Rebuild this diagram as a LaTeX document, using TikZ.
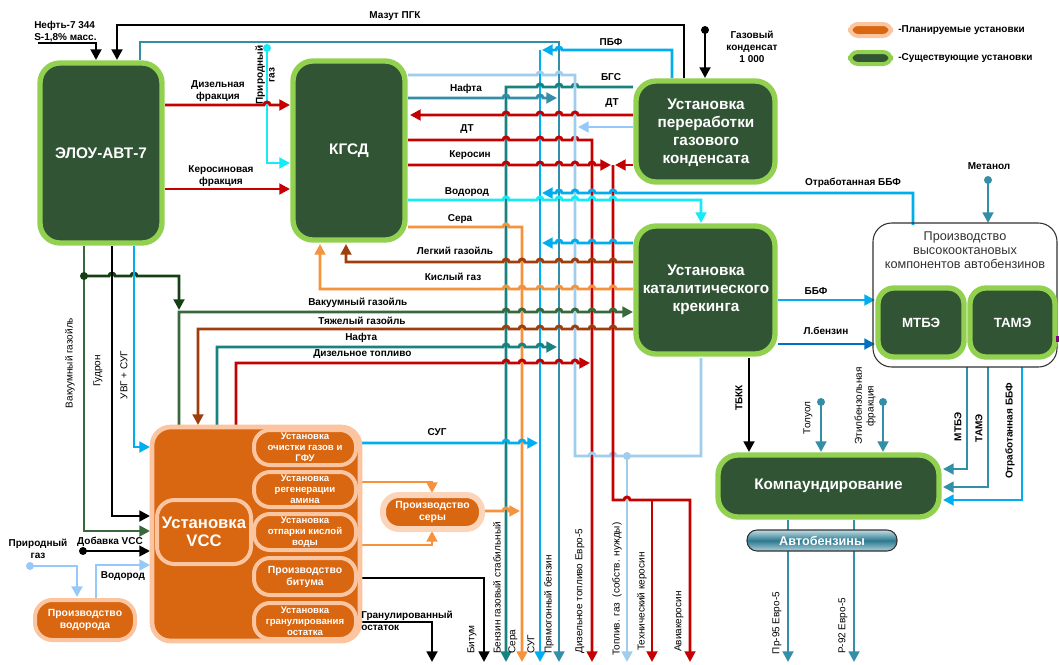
\documentclass[tikz,border=0pt]{standalone}
\usepackage{fontspec}
\setmainfont{Liberation Sans}
\usetikzlibrary{arrows.meta,fit}
\definecolor{boxg}{RGB}{49,84,52}
\definecolor{lgr}{RGB}{146,208,80}
\definecolor{orf}{RGB}{217,102,16}
\definecolor{peach}{RGB}{250,197,160}
\definecolor{peachl}{RGB}{252,212,185}
\definecolor{cred}{RGB}{196,0,0}
\definecolor{cteal}{RGB}{24,130,128}
\definecolor{csteel}{RGB}{52,142,168}
\definecolor{ccyan}{RGB}{0,174,239}
\definecolor{clight}{RGB}{160,205,235}
\definecolor{cpale}{RGB}{150,200,250}
\definecolor{cbright}{RGB}{20,235,245}
\definecolor{cbrown}{RGB}{158,62,12}
\definecolor{corange}{RGB}{246,146,60}
\definecolor{cgreen}{RGB}{56,104,60}
\definecolor{dkgreen}{RGB}{20,64,20}
\definecolor{cdblue}{RGB}{0,112,192}
\definecolor{gtext}{RGB}{50,50,50}
\def\hopR#1#2{\foreach \c in {#2}{ -- (\c-3,#1) arc[start angle=180,end angle=0,radius=2.25pt]}}
\def\hopL#1#2{\foreach \c in {#2}{ -- (\c+3,#1) arc[start angle=0,end angle=180,radius=2.25pt]}}
\begin{document}
\begin{tikzpicture}[x=0.75pt,y=-0.75pt,
 ln/.style={line width=2.2pt},
 arr/.style={-{Triangle[length=8pt,width=8pt]}},
 lbl/.style={font=\fontsize{7.5}{8.8}\selectfont\bfseries, inner sep=0pt, align=center},
 rl/.style={font=\fontsize{7.5}{8.8}\selectfont, inner sep=0pt, rotate=90, align=center},
 rlb/.style={font=\fontsize{7.5}{8.8}\selectfont\bfseries, inner sep=0pt, rotate=90, align=center},
 gbox/.style={draw=lgr, fill=boxg, line width=4pt, rounded corners=15pt, inner sep=0pt},
 obox/.style={draw=peach, fill=orf, line width=3pt, rounded corners=12pt, inner sep=0pt},
 btxt/.style={text=white, font=\fontsize{11.5}{13.5}\selectfont\bfseries, align=center, inner sep=0pt},
 stxt/.style={text=white, font=\fontsize{7.2}{8.2}\selectfont\bfseries, align=center, inner sep=0pt},
 dot/.style={circle, inner sep=0pt, minimum size=6pt}
]
\fill[white] (0,0) rectangle (1059,664);
\useasboundingbox (0,0) rectangle (1059,664);

% ---------- trunks ----------
\draw[ln,csteel,arr] (140,60) -- (140,42) -- (559,42) -- (559,662);
\draw[ln,ccyan,arr] (540,50) -- (540,662);
\draw[ln,cteal,arr] (633,87) \hopL{87}{575,559,540} -- (506,87) -- (506,662);
\draw[ln,corange,arr] (408,227) \hopR{227}{506} -- (522,227) -- (522,662);
\draw[ln,cred,arr] (408,140) \hopR{140}{506,540,559,575} -- (592,140) -- (592,662);
\draw[ln,clight] (408,75) \hopR{75}{540,559} -- (575,75) -- (575,456) \hopR{456}{592,613} -- (701,456) -- (701,358);
\draw[ln,clight,arr] (627,456) -- (627,662);
\node[dot,fill=clight] (fgdot) at (627,456) {};
\draw[ln,cred,arr] (613,165) -- (613,500) \hopR{500}{627} -- (690,500) -- (690,662);
\draw[ln,cred,arr] (652,500) -- (652,662);

% ---------- top ----------
\draw[ln,black,arr] (38,43) -- (96,43) -- (96,60);
\draw[ln,black,arr] (684,78) -- (684,25) -- (117,25) -- (117,60);
\draw[ln,ccyan,arr] (672,78) -- (672,50) \hopL{50}{559} -- (542,50);
\draw[ln,black,arr] (705,30) -- (705,78);
\node[dot,fill=black] (gcdot) at (705,30) {};

% ---------- horizontals ----------
\draw[ln,csteel,arr] (408,98) \hopR{98}{506,540} -- (557,98);
\draw[ln,cred,arr] (633,115) \hopL{115}{575,559,540,506} -- (410,115);
\draw[ln,cpale,arr] (633,127) -- (578,127);
\draw[ln,cred,arr] (408,165) \hopR{165}{506,540,559,575,592} -- (611,165);
\draw[ln,cred,arr] (633,165) -- (615,165);
\draw[ln,ccyan,arr] (913,225) -- (913,193) \hopL{193}{613,592,575,559} -- (542,193);
\draw[ln,cbright,arr] (408,200) \hopR{200}{506,540,559,575,592,613} -- (701,200) -- (701,223);
\draw[ln,ccyan,arr] (633,243) \hopL{243}{613,592,575,559} -- (542,243);
\draw[ln,cbrown,arr] (633,262) \hopL{262}{613,592,575,559,540,522,506} -- (346,262) -- (346,244);
\draw[ln,corange,arr] (633,289) \hopL{289}{613,592,575,559,540,522,506} -- (320,289) -- (320,244);
\draw[ln,dkgreen,arr] (84,276) \hopR{276}{112,134} -- (179,276) -- (179,310);
\draw[ln,cgreen,arr] (179,427) -- (179,312) \hopR{312}{506,522,540,559,575,592,613} -- (633,312);
\draw[ln,cbrown,arr] (633,329) \hopL{329}{613,592,575,559,540,522,506} -- (198,329) -- (198,425);
\draw[ln,cteal,arr] (217,427) -- (217,347) \hopR{347}{506,522,540} -- (557,347);
\draw[ln,cred,arr] (236,427) -- (236,363) \hopR{363}{506,522,540,559,575} -- (590,363);

% ---------- left ----------
\draw[ln,cgreen,arr] (84,246) -- (84,531) -- (150,531);
\node[dot,fill=dkgreen] (vgdot) at (84,276) {};
\draw[ln,black,arr] (112,246) -- (112,516) -- (150,516);
\draw[ln,ccyan,arr] (134,246) -- (134,447) -- (150,447);
\draw[line width=1.6pt,black,arr] (83,551) -- (150,551);
\node[dot,fill=black] (vccdot) at (83,551) {};
\draw[ln,cpale,arr] (30,566) -- (77,566) -- (77,597);
\node[dot,fill=cpale] (pgdot2) at (30,566) {};
\draw[ln,cpale,arr] (96,598) -- (96,565) -- (150,565);
\draw[ln,cbright,arr] (267,48) -- (267,163) -- (290,163);
\node[dot,fill=cbright] (pgdot) at (267,48) {};
\draw[ln,cred,arr] (165,105) \hopR{105}{267} -- (290,105);
\draw[ln,cred,arr] (165,189) -- (290,189);

% ---------- VCC outputs ----------
\draw[ln,ccyan,arr] (357,443) \hopR{443}{506,522} -- (538,443);
\draw[ln,corange,arr] (355,482) -- (432,482) -- (432,493);
\draw[ln,corange,arr] (355,545) -- (432,545) -- (432,531);
\draw[ln,corange,arr] (485,511) \hopR{511}{506} -- (520,511);
\draw[ln,black,arr] (357,578) -- (484,578) -- (484,662);
\draw[ln,black,arr] (357,622) -- (432,622) -- (432,662);

% ---------- right ----------
\draw[ln,ccyan,arr] (778,300) -- (875,300);
\draw[ln,cdblue,arr] (778,344) -- (875,344);
\draw[ln,csteel,arr] (988,180) -- (988,223);
\node[dot,fill=csteel] (medot) at (988,180) {};
\draw[ln,black,arr] (749,358) -- (749,452);
\draw[ln,csteel,arr] (821,402) -- (821,452);
\node[dot,fill=csteel] (todot) at (821,402) {};
\draw[ln,csteel,arr] (883,402) -- (883,452);
\node[dot,fill=csteel] (ebdot) at (883,402) {};
\draw[ln,csteel,arr] (967,367) -- (967,469) -- (943,469);
\draw[ln,csteel,arr] (988,367) -- (988,487) -- (943,487);
\draw[ln,ccyan,arr] (1022,367) -- (1022,500) -- (943,500);
\draw[ln,csteel,arr] (788,520) -- (788,662);
\draw[ln,csteel,arr] (854,520) -- (854,662);

% ---------- boxes ----------
\node[gbox, fit={(40,63) (162,243)}] (elou) {};
\node[btxt] (eloutx) at (elou.center) {ЭЛОУ-АВТ-7};
\node[gbox, fit={(293,61) (405,240)}] (kgsd) {};
\node[btxt] (kgsdtx) at (kgsd.center) {КГСД};
\node[gbox, fit={(636,81) (775,182)}] (ugk) {};
\node[btxt] (ugktx) at (706,133) {Установка\\переработки\\газового\\конденсата};
\node[gbox, fit={(636,226) (775,354)}] (ukk) {};
\node[btxt] (ukktx) at (706,290) {Установка\\каталитического\\крекинга};
\draw[gtext, line width=0.8pt, rounded corners=14pt] (873,223) rectangle (1057,367);
\node[font=\fontsize{9.5}{10.7}\selectfont, text=gtext, align=center, inner sep=0pt] (prodtx) at (965,250) {Производство\\высокооктановых\\компонентов автобензинов};
\node[gbox, rounded corners=12pt, fit={(878,288) (964,357)}] (mtbe) {};
\node[btxt, font=\fontsize{10}{12}\selectfont\bfseries] (mtbetx) at (mtbe.center) {МТБЭ};
\node[gbox, rounded corners=12pt, fit={(970,288) (1055,357)}] (tame) {};
\node[btxt, font=\fontsize{10}{12}\selectfont\bfseries] (tametx) at (tame.center) {ТАМЭ};
\fill[violet] (1056,336) rectangle (1059,342);
\node[gbox, fit={(718,455) (939,517)}] (komp) {};
\node[btxt] (komptx) at (komp.center) {Компаундирование};
\node[draw=gtext, line width=0.8pt, rounded corners=7.5pt, top color=white!70!csteel, bottom color=white!60!csteel, middle color=csteel!85!black, fit={(747,530) (897,551)}, inner sep=0pt] (abenz) {};
\node[text=white, font=\fontsize{9.5}{11}\selectfont\bfseries, inner sep=0pt] (abenztx) at (abenz.center) {Автобензины};

% VCC complex
\node[draw=peach, fill=orf, line width=3.5pt, rounded corners=14pt, inner sep=0pt, fit={(152,427) (360,641)}] (vcc) {};
\node[obox, fit={(254,430) (356,465)}] (s1) {};
\node[stxt] (s1tx) at (s1.center) {Установка\\очистки газов и\\ГФУ};
\node[obox, fit={(254,472) (356,507)}] (s2) {};
\node[stxt] (s2tx) at (s2.center) {Установка\\регенерации\\амина};
\node[obox, fit={(254,514) (356,550)}] (s3) {};
\node[stxt] (s3tx) at (s3.center) {Установка\\отпарки кислой\\воды};
\node[obox, fit={(254,558) (356,595)}] (s4) {};
\node[stxt, font=\fontsize{7.8}{9}\selectfont\bfseries] (s4tx) at (s4.center) {Производство\\битума};
\node[obox, fit={(254,603) (356,639)}] (s5) {};
\node[stxt] (s5tx) at (s5.center) {Установка\\гранулирования\\остатка};
\node[obox, rounded corners=13pt, fit={(157,500) (251,564)}] (vccin) {};
\node[btxt, font=\fontsize{12.5}{13}\selectfont\bfseries] (vcctx) at (vccin.center) {Установка\\VCC};
\node[obox, rounded corners=13pt, fit={(35,600) (135,640)}] (h2) {};
\node[stxt, font=\fontsize{7.8}{9}\selectfont\bfseries] (h2tx) at (h2.center) {Производство\\водорода};
\node[obox, draw=peachl, line width=4.5pt, rounded corners=12pt, fit={(383,495) (482,529)}] (sulf) {};
\node[stxt, font=\fontsize{7.8}{9}\selectfont\bfseries] (sulftx) at (sulf.center) {Производство\\серы};

% legend
\node[obox, rounded corners=6pt, fit={(850,24) (891,36)}] (lgo) {};
\node[gbox, line width=3pt, rounded corners=6pt, fit={(850,52) (891,64)}] (lgg) {};
\node[lbl, anchor=west] (lgot) at (898,30) {-Планируемые установки};
\node[lbl, anchor=west] (lggt) at (898,58) {-Существующие установки};

% ---------- labels ----------
\node[lbl, anchor=west, align=left] (t1) at (34,32) {Нефть-7 344\\S-1,8\% масс.};
\node[lbl] (t2) at (395,16) {Мазут ПГК};
\node[lbl] (t3) at (611,42) {ПБФ};
\node[lbl] (t4) at (611,77) {БГС};
\node[lbl] (t5) at (466,89) {Нафта};
\node[lbl] (t6) at (612,103) {ДТ};
\node[lbl] (t7) at (467,129) {ДТ};
\node[lbl] (t8) at (470,155) {Керосин};
\node[lbl] (t9) at (467,192) {Водород};
\node[lbl] (t10) at (460,219) {Сера};
\node[lbl] (t11) at (455,251) {Легкий газойль};
\node[lbl] (t12) at (453,277) {Кислый газ};
\node[lbl, anchor=west] (t13) at (308,303) {Вакуумный газойль};
\node[lbl, anchor=west] (t14) at (318,321) {Тяжелый газойль};
\node[lbl, anchor=west] (t15) at (345,338) {Нафта};
\node[lbl, anchor=west] (t16) at (313,354) {Дизельное топливо};
\node[lbl] (t17) at (437,432) {СУГ};
\node[lbl] (t18) at (853,183) {Отработанная ББФ};
\node[lbl] (t19) at (989,166) {Метанол};
\node[lbl] (t20) at (816,291) {ББФ};
\node[lbl] (t21) at (826,331) {Л.бензин};
\node[lbl] (t22) at (752,47) {Газовый\\конденсат\\1 000};
\node[lbl] (t23) at (218,91) {Дизельная\\фракция};
\node[lbl] (t24) at (221,176) {Керосиновая\\фракция};
\node[rlb] (t25) at (265,75) {Природный\\газ};
\node[rl] (t26) at (70,363) {Вакуумный газойль};
\node[rl] (t27) at (98,371) {Гудрон};
\node[rl] (t28) at (124,375) {УВГ + СУГ};
\node[lbl] (t29) at (38,549) {Природный\\газ};
\node[lbl] (t30) at (110,542) {Добавка VCC};
\node[lbl] (t31) at (123,576) {Водород};
\node[lbl, anchor=west, align=left] (t32) at (361,621) {Гранулированный\\остаток};
\node[rl, anchor=west] (b1) at (472,654) {Битум};
\node[rl, anchor=west] (b2) at (497,654) {Бензин газовый стабильный};
\node[rl, anchor=west] (b3) at (513,654) {Сера};
\node[rl, anchor=west] (b4) at (531,654) {СУГ};
\node[rl, anchor=west] (b5) at (549,654) {Прямогонный бензин};
\node[rl, anchor=west] (b6) at (580,654) {Дизельное топливо Евро-5};
\node[rl, anchor=west] (b7) at (617,656) {Топлив. газ~~(собств. нужды)};
\node[rl, anchor=west] (b8) at (642,651) {Технический керосин};
\node[rl, anchor=west] (b9) at (679,652) {Авиакеросин};
\node[rlb] (r1) at (739,398) {ТБКК};
\node[rl] (r2) at (808,418) {Толуол};
\node[rl] (r3) at (865,406) {Этилбензольная\\фракция};
\node[rlb] (r4) at (958,427) {МТБЭ};
\node[rlb] (r5) at (979,428) {ТАМЭ};
\node[rlb] (r6) at (1010,431) {Отработанная ББФ};
\node[rl] (r7) at (777,623) {Пр-95 Евро-5};
\node[rl] (r8) at (843,626) {Р-92 Евро-5};
\end{tikzpicture}
\end{document}
